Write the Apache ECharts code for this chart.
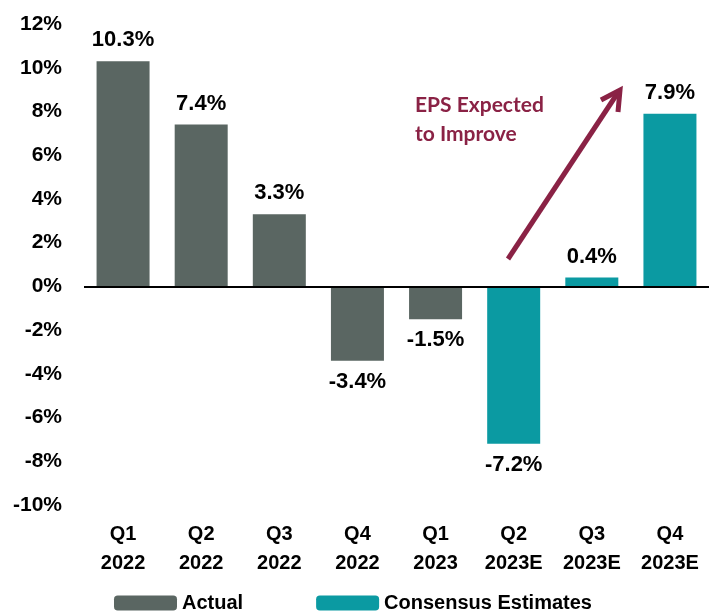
<!DOCTYPE html>
<html>
<head>
<meta charset="utf-8">
<script src="https://cdn.jsdelivr.net/npm/echarts@6/dist/echarts.min.js"></script>
<style>
  html, body { margin: 0; padding: 0; background: #fff; }
  #chart { width: 709px; height: 615px; }
</style>
</head>
<body>
<div id="chart"></div>
<script>
const categories = ['Q1\n2022', 'Q2\n2022', 'Q3\n2022', 'Q4\n2022', 'Q1\n2023', 'Q2\n2023E', 'Q3\n2023E', 'Q4\n2023E']
const actual = [10.3, 7.4, 3.3, -3.4, -1.5, '-', '-', '-']
const estimates = ['-', '-', '-', '-', '-', -7.2, 0.4, 7.9]

const gray = '#5a6662'
const teal = '#0b9aa2'
const maroon = '#8a2245'
const font = '"Liberation Sans", Arial, sans-serif'

function labelFor(v) {
  return {
    show: true,
    position: v < 0 ? 'bottom' : 'top',
    distance: 10,
    color: '#000',
    fontFamily: font,
    fontWeight: 'bold',
    fontSize: 22,
    formatter: (p) => p.value.toFixed(1) + '%',
  }
}
const toItems = (arr) => arr.map((v) => (v === '-' ? v : { value: v, label: labelFor(v) }))

const chart = echarts.init(document.getElementById('chart'))
const option = {
  animation: false,
  grid: { left: 84, right: -4, top: 24, bottom: 110 },
  xAxis: {
    type: 'category',
    data: categories,
    axisLine: { show: false, onZero: false },
    axisTick: { show: false },
    axisLabel: {
      interval: 0,
      margin: 15,
      color: '#000',
      fontFamily: font,
      fontWeight: 'bold',
      fontSize: 20,
      lineHeight: 29,
    },
  },
  yAxis: {
    type: 'value',
    min: -10,
    max: 12,
    interval: 2,
    splitLine: { show: false },
    axisLine: { show: false },
    axisTick: { show: false },
    axisLabel: {
      margin: 22,
      color: '#000',
      fontFamily: font,
      fontWeight: 'bold',
      fontSize: 21,
      formatter: '{value}%',
    },
  },
  legend: {
    bottom: -3,
    left: 109,
    itemWidth: 63,
    itemHeight: 15,
    itemGap: 73,
    icon: 'roundRect',
    textStyle: { color: '#000', fontFamily: font, fontWeight: 'bold', fontSize: 20 },
    data: ['Actual', 'Consensus Estimates'],
  },
  series: [
    {
      name: 'Actual',
      type: 'bar',
      data: toItems(actual),
      barWidth: 53,
      barGap: '-100%',
      itemStyle: { color: gray },
      markLine: {
        silent: true,
        symbol: 'none',
        label: { show: false },
        lineStyle: { color: '#000', width: 2, type: 'solid' },
        data: [{ yAxis: 0 }],
      },
    },
    {
      name: 'Consensus Estimates',
      type: 'bar',
      data: toItems(estimates),
      barWidth: 53,
      itemStyle: { color: teal },
    },
  ],
  graphic: [
    {
      type: 'text',
      left: 415,
      top: 91,
      style: {
        text: 'EPS Expected\nto Improve',
        fill: maroon,
        font: 'bold 21px Lato, "Open Sans", sans-serif',
        lineHeight: 29,
      },
    },
    {
      type: 'line',
      shape: { x1: 508, y1: 259, x2: 619, y2: 91 },
      style: { stroke: maroon, lineWidth: 5 },
    },
    {
      type: 'polyline',
      shape: { points: [[601, 100], [620, 90], [618, 112]] },
      style: { stroke: maroon, lineWidth: 5, fill: null, lineJoin: 'miter' },
    },
  ],
}

chart.setOption(option)
</script>
</body>
</html>
